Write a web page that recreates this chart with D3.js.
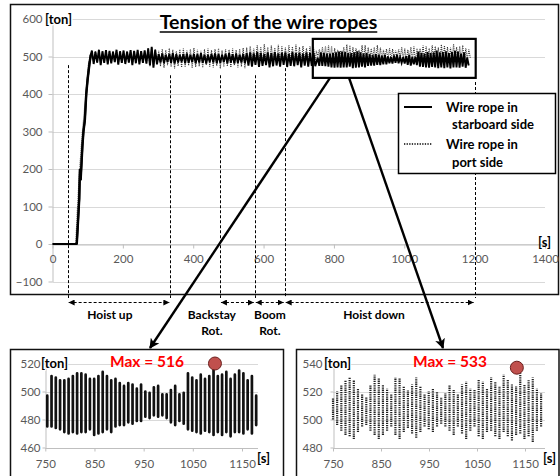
<!DOCTYPE html>
<html><head><meta charset="utf-8">
<script src="https://cdn.jsdelivr.net/npm/d3@7"></script>
<style>
body{margin:0;background:#fff}
svg{display:block}
text{font-family:Lato,"Open Sans","Noto Sans",sans-serif}
</style>
</head><body>
<svg id="c" width="560" height="476"></svg>
<script>
// ---------------- DATA ----------------
const chartTitle = "Tension of the wire ropes";
const mainYTicks = [-100, 0, 100, 200, 300, 400, 500, 600];
const mainXTicks = [0, 200, 400, 600, 800, 1000, 1200, 1400];
const insetXTicks = [750, 850, 950, 1050, 1150];
const stbdInsetYTicks = [460, 480, 500, 520];
const portInsetYTicks = [480, 500, 520, 540];
const seriesNames = [["Wire rope in", "starboard side"], ["Wire rope in", "port side"]];

// start-up ramp  [time s, tension ton]
const stbdRamp = [[0,0],[69,0],[72,50],[76,120],[78,200],[80,170],[85,260],[88,300],[92,330],[96,400],[100,440],[105,480],[109,505]];
const portRamp = [[0,0],[66,0],[70,80],[74,150],[78,210],[84,290],[90,350],[96,420],[102,480],[108,505]];

// oscillation extremes per cycle, 112 s .. 750 s (cycle every 10 s)
const overviewStart = 112, overviewStep = 10;
const stbdOverviewHigh = [516,513,518,514,517,515,512,518,514,516,513,517,515,518,514,516,
  522,526,518,
  506,508,505,507,509,506,504,507,508,505,507,506,509,505,504,507,508,506,505,507,509,506,508,505,507,
  509,511,508,512,510,507,511,509,512,508,510,511,507,512,509,510,508,511,509,510];
const stbdOverviewLow = [480,484,477,483,479,482,485,478,483,480,484,477,482,479,483,481,
  476,470,479,
  484,482,485,483,481,484,486,482,483,485,482,484,483,481,485,484,482,483,485,482,484,481,483,484,482,
  476,473,478,472,475,477,471,474,476,473,478,472,475,474,477,471,476,473,475,474];
const portOverviewHigh = [515,514,517,513,516,514,515,517,513,515,514,516,514,517,515,514,
  521,524,519,
  515,520,517,522,518,514,519,521,516,520,523,518,515,519,521,517,520,522,516,519,518,521,517,520,523,
  524,528,522,530,526,533,525,529,523,531,527,524,530,526,532,525,528,522,527,524];
const portOverviewLow = [482,483,480,484,481,483,484,480,483,482,484,480,483,481,483,482,
  474,472,480,
  474,470,477,472,468,475,471,473,476,469,472,474,470,477,473,471,475,468,472,474,471,476,470,473,469,
  484,480,486,482,478,485,481,487,483,479,486,482,484,480,485,483,488,481,486,490];

// detailed extremes, 750 s .. 1190 s
const detailStep = 8.67;
const stbdDetailStart = 754;
const stbdDetailHigh = [497,511,510,508,508,509,511,513,513,512,509,509,511,514,511,508,509,506,504,506,505,502,505,500,499,
  503,504,498,498,501,504,498,499,513,510,508,512,509,511,516,511,512,514,509,512,515,513,508,511,497];
const stbdDetailLow = [475,475,474,473,471,470,471,470,471,471,473,469,470,471,473,471,475,476,476,478,477,479,479,482,481,
  483,482,483,481,478,476,479,477,473,472,471,470,472,471,469,471,469,471,468,471,471,470,473,470,476];
const portDetailStart = 750;
const portDetailHigh = [515,520,525,528,530,528,522,518,516,525,532,530,525,522,518,530,530,524,521,525,530,524,518,520,522,520,
  516,519,525,521,518,525,527,522,521,529,527,522,530,527,524,532,529,525,524,533,525,528,530,522,519];
const portDetailLow = [500,496,492,489,488,486,491,495,496,492,489,486,489,492,495,489,486,491,494,490,487,491,495,493,491,495,
  497,495,492,489,495,490,486,492,495,488,486,491,492,488,486,491,488,485,489,490,486,488,484,492,495];

// operation phases (boundaries in s)
const phaseBounds = [43, 335, 476, 575, 660, 1200];
const phaseNames = [["Hoist up"], ["Backstay", "Rot."], ["Boom", "Rot."], ["Hoist down"]];
const phaseSpans = [[43, 335], [476, 575], [575, 660], [660, 1200]];
const maxValues = [516, 533];

// ---------------- LAYOUT ----------------
const svg = d3.select("#c");
svg.append("rect").attr("width", 560).attr("height", 476).attr("fill", "#fff");
const defs = svg.append("defs");
defs.append("marker").attr("id", "bigArrow").attr("viewBox", "0 0 10 10")
  .attr("refX", 9).attr("refY", 5).attr("markerWidth", 4.2).attr("markerHeight", 4.2)
  .attr("orient", "auto")
  .append("path").attr("d", "M0,0L10,5L0,10L2.5,5Z").attr("fill", "#000");
defs.append("marker").attr("id", "smallArrow").attr("viewBox", "0 0 10 10")
  .attr("refX", 10).attr("refY", 5).attr("markerWidth", 6).attr("markerHeight", 6)
  .attr("markerUnits", "userSpaceOnUse")
  .attr("orient", "auto-start-reverse")
  .append("path").attr("d", "M0,0L10,5L0,10Z").attr("fill", "#000");

const GRID = "#d9d9d9", AXIS = "#bfbfbf", TICKTXT = "#595959";
const fmt = d3.format("d");

function zig(start, step, highs, lows) {
  const pts = [];
  highs.forEach((h, i) => {
    pts.push([start + i * step, h]);
    pts.push([start + i * step + step / 2, lows[i]]);
  });
  return pts;
}
function cols(start, step, highs, lows) {
  return highs.map((h, i) => ({t: start + i * step, hi: h, lo: lows[i]}));
}
function maskText(sel, w) {
  return sel.attr("stroke", "#fff").attr("stroke-width", w || 3).attr("paint-order", "stroke").attr("stroke-linejoin", "round");
}

// ---------- main chart ----------
svg.append("rect").attr("x", 10.5).attr("y", 4.5).attr("width", 548).attr("height", 290)
  .attr("fill", "none").attr("stroke", "#111").attr("stroke-width", 1.5);

const x = d3.scaleLinear().domain([0, 1400]).range([52.5, 545]);
const y = d3.scaleLinear().domain([-100, 600]).range([281.5, 19]);

const gMain = svg.append("g");
gMain.selectAll("line.grid").data(mainYTicks).join("line")
  .attr("x1", x(0)).attr("x2", x(1400))
  .attr("y1", d => Math.round(y(d)) + 0.5).attr("y2", d => Math.round(y(d)) + 0.5)
  .attr("stroke", GRID);

const yAx = gMain.append("g").attr("transform", `translate(${x(0)},0)`)
  .call(d3.axisLeft(y).tickValues(mainYTicks).tickFormat(fmt).tickSize(4).tickPadding(6).tickSizeOuter(0));
const xAx = gMain.append("g").attr("transform", `translate(0,${Math.round(y(0)) + 0.5})`)
  .call(d3.axisBottom(x).tickValues(mainXTicks).tickFormat(fmt).tickSize(4).tickPadding(6).tickSizeOuter(0));
[yAx, xAx].forEach(a => {
  a.select(".domain").attr("stroke", AXIS);
  a.selectAll(".tick line").attr("stroke", AXIS);
  a.selectAll("text").attr("fill", TICKTXT).attr("font-size", 11.5).style("font-family", "Lato,sans-serif");
});

const line = d3.line().x(d => x(d[0])).y(d => y(d[1]));
const portPts = portRamp.concat(zig(overviewStart, overviewStep, portOverviewHigh, portOverviewLow),
                                zig(portDetailStart, detailStep, portDetailHigh, portDetailLow));
const stbdPts = stbdRamp.concat(zig(overviewStart, overviewStep, stbdOverviewHigh, stbdOverviewLow),
                                zig(stbdDetailStart, detailStep, stbdDetailHigh, stbdDetailLow));
gMain.append("path").attr("d", line(portPts)).attr("fill", "none")
  .attr("stroke", "#333").attr("stroke-width", 1.1).attr("stroke-dasharray", "1,1");
gMain.append("path").attr("d", line(stbdPts)).attr("fill", "none")
  .attr("stroke", "#000").attr("stroke-width", 1.9);
gMain.append("path").attr("d", line(stbdRamp.slice(1))).attr("fill", "none")
  .attr("stroke", "#000").attr("stroke-width", 2.4);

// phase boundaries
const phaseTop = [477, 450, 450, 450, 469, 432];
gMain.selectAll("line.phase").data(phaseBounds).join("line")
  .attr("x1", d => Math.round(x(d)) + 0.5).attr("x2", d => Math.round(x(d)) + 0.5)
  .attr("y1", (d, i) => y(phaseTop[i])).attr("y2", 298)
  .attr("stroke", "#000").attr("stroke-width", 1).attr("stroke-dasharray", "3,2");

// phase arrows
svg.selectAll("line.parrow").data(phaseSpans).join("line")
  .attr("x1", d => x(d[0]) + 1).attr("x2", d => x(d[1]) - 1)
  .attr("y1", 302.5).attr("y2", 302.5)
  .attr("stroke", "#000").attr("stroke-width", 1).attr("stroke-dasharray", "3,2")
  .attr("marker-start", "url(#smallArrow)").attr("marker-end", "url(#smallArrow)");
const phaseLabelAt = [163, 453, 618, 914];
phaseNames.forEach((lines, i) => {
  lines.forEach((s, j) => {
    svg.append("text").attr("x", x(phaseLabelAt[i])).attr("y", 319 + j * 16)
      .attr("text-anchor", "middle").attr("font-weight", 700).attr("font-size", 12)
      .attr("fill", "#000").text(s);
  });
});

// unit labels
maskText(svg.append("text").attr("x", 45).attr("y", 23.5).attr("font-weight", 700)
  .attr("font-size", 13).attr("fill", "#000").text("[ton]"));
svg.append("text").attr("x", 538).attr("y", 246.5).attr("font-weight", 700)
  .attr("font-size", 13).attr("fill", "#000").text("[s]");

// title
const title = maskText(svg.append("text").attr("x", 268.5).attr("y", 29).attr("text-anchor", "middle")
  .attr("font-weight", 700).attr("font-size", 19.5).attr("fill", "#000").text(chartTitle), 4);
const tw = title.node().getComputedTextLength();
svg.append("line").attr("x1", 268.5 - tw / 2).attr("x2", 268.5 + tw / 2)
  .attr("y1", 32).attr("y2", 32).attr("stroke", "#000").attr("stroke-width", 1.4);

// zoom box
svg.append("rect").attr("x", x(740)).attr("y", y(547)).attr("width", x(1203) - x(740))
  .attr("height", y(443) - y(547)).attr("fill", "none").attr("stroke", "#000").attr("stroke-width", 2.2);

// legend
svg.append("rect").attr("x", 398.5).attr("y", 93.5).attr("width", 157).attr("height", 80)
  .attr("fill", "#fff").attr("stroke", "#000").attr("stroke-width", 1.5);
svg.append("line").attr("x1", 404).attr("x2", 432).attr("y1", 107).attr("y2", 107)
  .attr("stroke", "#000").attr("stroke-width", 2);
svg.append("line").attr("x1", 404).attr("x2", 432).attr("y1", 144).attr("y2", 144)
  .attr("stroke", "#000").attr("stroke-width", 1.3).attr("stroke-dasharray", "1.3,1.3");
[[446, 111.5], [452, 129]].forEach((p, j) => svg.append("text").attr("x", p[0]).attr("y", p[1])
  .attr("font-weight", 700).attr("font-size", 13).attr("fill", "#000").text(seriesNames[0][j]));
[[446, 148.5], [452, 167]].forEach((p, j) => svg.append("text").attr("x", p[0]).attr("y", p[1])
  .attr("font-weight", 700).attr("font-size", 13).attr("fill", "#000").text(seriesNames[1][j]));

// ---------- insets ----------
function inset(o) {
  const g = svg.append("g");
  g.append("rect").attr("x", o.frame[0]).attr("y", 349.5).attr("width", o.frame[1] - o.frame[0])
    .attr("height", 140).attr("fill", "#fff").attr("stroke", "#111").attr("stroke-width", 1.5);
  const xs = d3.scaleLinear().domain([750, 1150]).range(o.xr);
  const ys = d3.scaleLinear().domain(o.yd).range([447.5, 363.5]);
  g.selectAll("line.grid").data(o.yticks).join("line")
    .attr("x1", xs(750)).attr("x2", o.gridEnd)
    .attr("y1", d => Math.round(ys(d)) + 0.5).attr("y2", d => Math.round(ys(d)) + 0.5)
    .attr("stroke", GRID);
  const ya = g.append("g").attr("transform", `translate(${Math.round(xs(750)) + 0.5},0)`)
    .call(d3.axisLeft(ys).tickValues(o.yticks).tickFormat(fmt).tickSize(3).tickPadding(o.ypad).tickSizeOuter(0));
  const xa = g.append("g").attr("transform", `translate(0,${Math.round(ys(o.yd[0])) + 0.5})`)
    .call(d3.axisBottom(xs).tickValues(insetXTicks).tickFormat(fmt).tickSize(3).tickPadding(8).tickSizeOuter(0));
  [ya, xa].forEach(a => {
    a.select(".domain").attr("stroke", AXIS);
    a.selectAll(".tick line").attr("stroke", AXIS);
    a.selectAll("text").attr("fill", TICKTXT).attr("font-size", 11.5).style("font-family", "Lato,sans-serif");
  });
  xa.select(".domain").attr("d", `M${xs(750)},0H${o.gridEnd}`);
  const path = d3.path();
  o.cols.forEach(c => { path.moveTo(xs(c.t), ys(c.lo)); path.lineTo(xs(c.t), ys(c.hi)); });
  const p = g.append("path").attr("d", path.toString()).attr("fill", "none")
    .attr("stroke", o.color).attr("stroke-width", o.sw);
  if (o.dash) p.attr("stroke-dasharray", o.dash); else p.attr("stroke-linecap", "round");
  maskText(g.append("text").attr("x", o.tonX).attr("y", 368).attr("font-weight", 700)
    .attr("font-size", 13).attr("fill", "#000").text("[ton]"), 2);
  g.append("text").attr("x", o.sX).attr("y", 463).attr("font-weight", 700)
    .attr("font-size", 13).attr("fill", "#000").text("[s]");
  g.append("text").attr("x", o.maxX).attr("y", 367).attr("text-anchor", "middle")
    .attr("font-weight", 700).attr("font-size", 15.5).attr("fill", "#ff0000").text("Max = " + o.max);
  g.append("circle").attr("cx", xs(o.dot[0])).attr("cy", ys(o.dot[1])).attr("r", 6.5)
    .attr("fill", "#c0504d").attr("stroke", "#6b1f1d").attr("stroke-width", 1);
}
inset({frame: [10.5, 283.5], xr: [45.3, 242], yd: [460, 520], yticks: stbdInsetYTicks, gridEnd: 258, ypad: 2,
  cols: cols(stbdDetailStart, detailStep, stbdDetailHigh, stbdDetailLow), color: "#111", sw: 2.7,
  tonX: 41, sX: 257, maxX: 147, max: maxValues[0], dot: [1095, 520]});
inset({frame: [296.5, 559], xr: [333, 525], yd: [480, 540], yticks: portInsetYTicks, gridEnd: 545, ypad: 8,
  cols: cols(portDetailStart, detailStep, portDetailHigh, portDetailLow), color: "#222", sw: 2.2, dash: "1.3,0.9",
  tonX: 324, sX: 543, maxX: 450, max: maxValues[1], dot: [1133, 537]});

// zoom arrows
svg.append("line").attr("x1", x(789)).attr("y1", y(443)).attr("x2", 150).attr("y2", 348)
  .attr("stroke", "#000").attr("stroke-width", 2.4).attr("marker-end", "url(#bigArrow)");
svg.append("line").attr("x1", x(843)).attr("y1", y(443)).attr("x2", 443).attr("y2", 348)
  .attr("stroke", "#000").attr("stroke-width", 2.4).attr("marker-end", "url(#bigArrow)");
</script>
</body></html>
